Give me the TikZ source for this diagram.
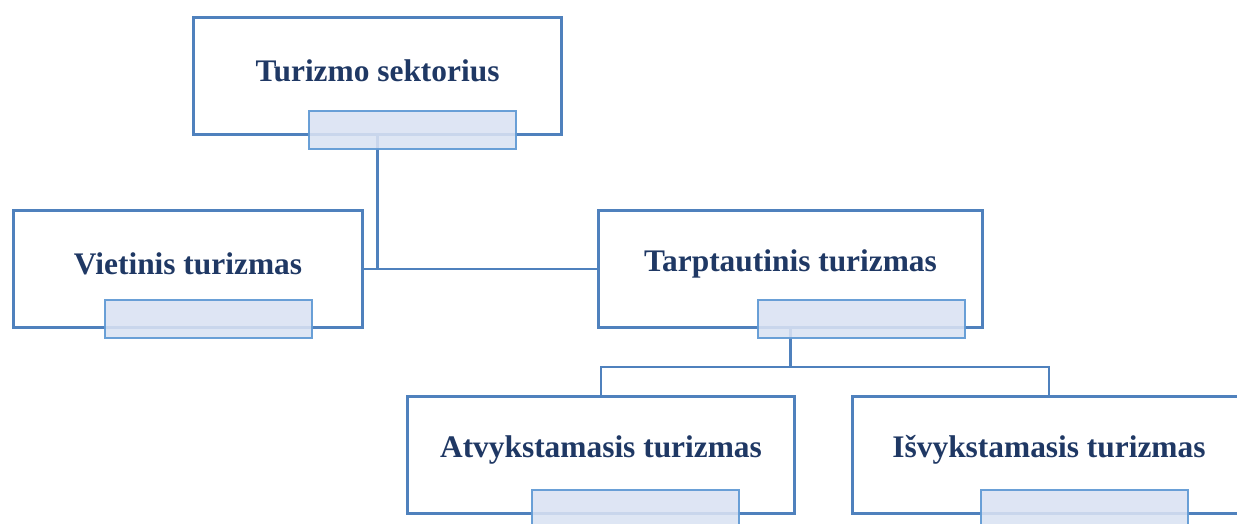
\documentclass[tikz,border=0pt]{standalone}
\usepackage{fontspec}
\setmainfont{Liberation Serif}
\usetikzlibrary{calc}
\definecolor{boxblue}{RGB}{79,129,189}
\definecolor{lblfill}{RGB}{218,226,243}
\definecolor{lbledge}{RGB}{98,155,213}
\definecolor{txtnavy}{RGB}{31,56,100}
\begin{document}
\begin{tikzpicture}[x=1pt,y=-1pt,
  boxnode/.style={draw=boxblue,line width=3pt,fill=white,minimum width=#1,minimum height=117pt,inner sep=0pt,outer sep=0pt},
  tagbox/.style={draw=lbledge,line width=2pt,fill=lblfill,fill opacity=0.88,draw opacity=0.95,minimum width=207pt,minimum height=38pt,inner sep=0pt},
  title/.style={text=txtnavy,font=\fontsize{31.4}{36}\selectfont\bfseries,inner sep=0pt},
  link/.style={draw=boxblue,line width=2.5pt}]
\useasboundingbox (0,0) rectangle (1237,523);
\clip (0,0) rectangle (1237,523);
% boxes
\node[boxnode=368pt] (top) at (377.5,76) {};
\node[boxnode=349pt] (vt) at (188,269) {};
\node[boxnode=384pt] (tt) at (790.5,269) {};
\node[boxnode=387pt] (at) at (601,455) {};
\node[boxnode=393pt] (is) at (1049,455) {};
% connectors
\coordinate (j) at (790.5,367);
\draw[link] (top.south) -- (top.south |- vt.east);
\draw[link] (vt.east) -- (tt.west);
\draw[link] (tt.south) -- (j);
\draw[link] (at.north) -- (at.north |- j) -- (is.north |- j) -- (is.north);
% titles
\node[title] (topt) at ([yshift=-53pt]top.north) {Turizmo sektorius};
\node[title] (vtt) at ([yshift=-53pt]vt.north) {Vietinis turizmas};
\node[title] (ttt) at ([yshift=-53pt]tt.north) {Tarptautinis turizmas};
\node[title] (att) at ([yshift=-53pt]at.north) {Atvykstamasis turizmas};
\node[title] (ist) at ([yshift=-53pt]is.north) {Išvykstamasis turizmas};
% label tabs
\node[tagbox] (topl) at (412.5,130) {};
\node[tagbox] (vtl) at (208.5,319) {};
\node[tagbox] (ttl) at (861,319) {};
\node[tagbox] (atl) at (635.5,509) {};
\node[tagbox] (isl) at (1084,509) {};
\end{tikzpicture}
\end{document}
